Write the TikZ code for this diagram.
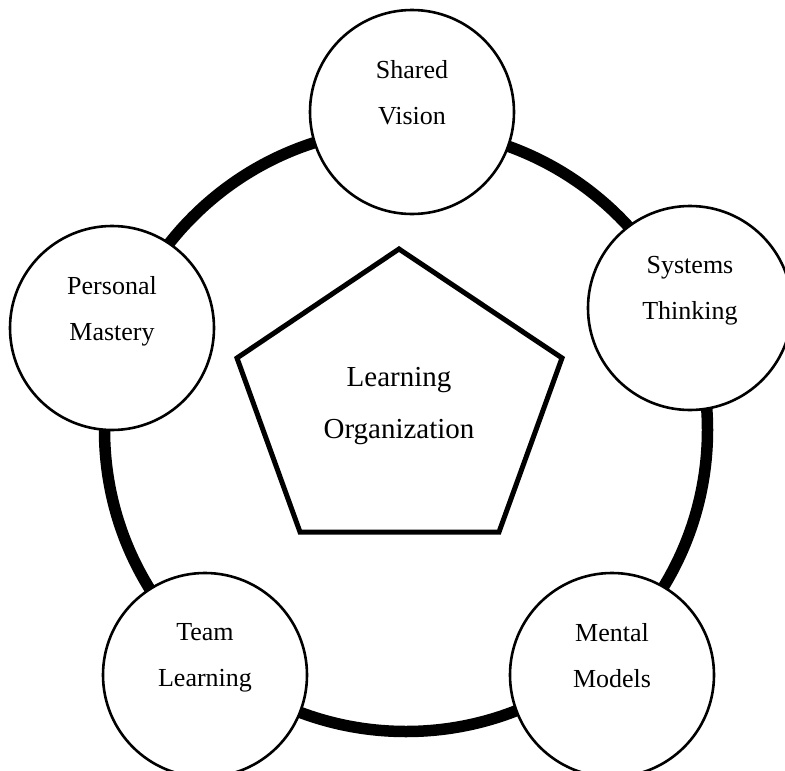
\documentclass[tikz,border=0pt]{standalone}
\usepackage{fontspec}
\setmainfont{Liberation Serif}
\begin{document}
\begin{tikzpicture}[x=1pt, y=-1pt,
		ring/.style={circle, draw, line width=11.5pt, minimum size=603pt, inner sep=0pt},
		disc/.style={circle, draw, line width=2.6pt, fill=white, minimum size=204pt, inner sep=0pt, align=center, font=\fontsize{26}{46}\selectfont, text depth=40pt},
		core/.style={align=center, font=\fontsize{29}{52}\selectfont}]
		\useasboundingbox (0,0) rectangle (785,771);
		
		\node [ring] (ring) at (406,430) {};
		
		\node [disc] (sv) at (412,112) {Shared\\Vision};
		\node [disc] (st) at (690,308) {Systems\\Thinking};
		\node [disc] (pm) at (112,328) {Personal\\Mastery};
		\node [disc] (tl) at (205,675) {Team\\Learning};
		\node [disc] (mm) at (612,675) {Mental\\Models};
		
		\draw[line width=5pt]
		(399,249) -- (562,358) -- (499,532) -- (300,532) -- (237,358) -- cycle;
		\node [core] (lo) at (399,406) {Learning\\Organization};
		
		\end{tikzpicture}
\end{document}
